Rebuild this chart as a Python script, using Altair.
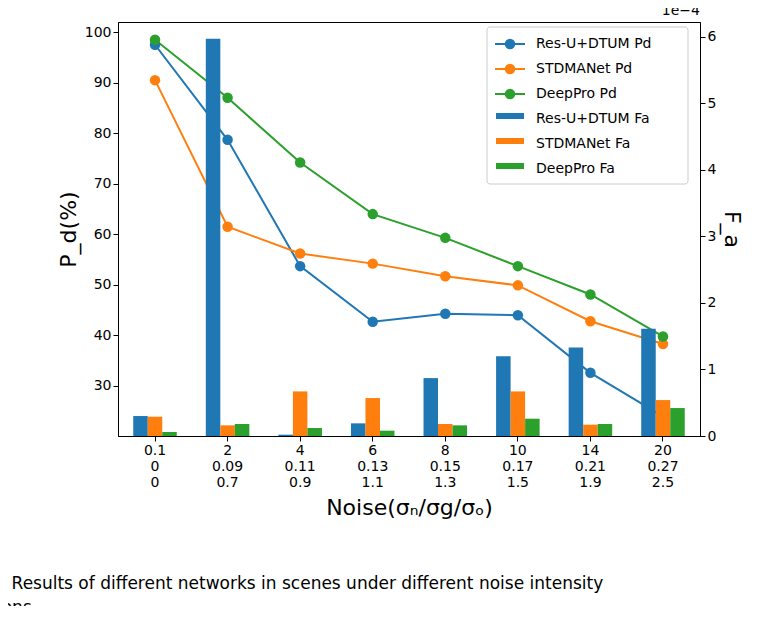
import altair as alt
import pandas as pd

cats = ["0.1|0|0", "2|0.09|0.7", "4|0.11|0.9", "6|0.13|1.1", "8|0.15|1.3", "10|0.17|1.5", "14|0.21|1.9", "20|0.27|2.5"]
nets = ["Res-U+DTUM", "STDMANet", "DeepPro"]
colors = ["#1f77b4", "#ff7f0e", "#2ca02c"]
pd_res = [97.5, 78.7, 53.7, 42.7, 44.3, 44.0, 32.6, 24.0]
pd_std = [90.5, 61.5, 56.2, 54.2, 51.7, 49.9, 42.8, 38.3]
pd_deep = [98.5, 87.0, 74.2, 64.0, 59.3, 53.7, 48.1, 39.8]
fa_res = [0.30, 5.97, 0.02, 0.19, 0.87, 1.20, 1.33, 1.61]
fa_std = [0.29, 0.16, 0.67, 0.57, 0.18, 0.67, 0.17, 0.54]
fa_deep = [0.06, 0.18, 0.12, 0.08, 0.16, 0.26, 0.18, 0.42]

rows = []
for n, p, f in zip(nets, [pd_res, pd_std, pd_deep], [fa_res, fa_std, fa_deep]):
    for c, pv, fv in zip(cats, p, f):
        rows.append({"cat": c, "net": n, "pd": pv, "fa": fv})
df = pd.DataFrame(rows)

F = "DejaVu Sans"
xenc = alt.X("cat:N", sort=cats, scale=alt.Scale(paddingInner=0.4, paddingOuter=0.21),
             axis=alt.Axis(labelExpr="split(datum.label, '|')", labelAngle=0, labelFontSize=14,
                           labelFont=F, labelColor="black", title="Noise(σₙ/σg/σₒ)", titleFontSize=22,
                           titleFont=F, titleFontWeight="normal", titlePadding=8, ticks=True, domainColor="black", tickColor="black"))
cscale = alt.Scale(domain=nets, range=colors)

lines = alt.Chart(df).mark_line(strokeWidth=2, point=alt.OverlayMarkDef(size=110, filled=True, opacity=1)).encode(
    x=xenc,
    y=alt.Y("pd:Q", scale=alt.Scale(domain=[20.1, 102], nice=False, zero=False),
            axis=alt.Axis(values=[30, 40, 50, 60, 70, 80, 90, 100], labelFontSize=14, labelFont=F, labelColor="black",
                          title="P_d(%)", titleFontSize=22, titleFont=F, titleFontWeight="normal", grid=False,
                          domainColor="black", tickColor="black")),
    color=alt.Color("net:N", scale=cscale, legend=None),
)
bars = alt.Chart(df).mark_bar().encode(
    x=xenc,
    xOffset=alt.XOffset("net:N", sort=nets),
    y=alt.Y("fa:Q", scale=alt.Scale(domain=[0, 6.22], nice=False),
            axis=alt.Axis(orient="right", values=[0, 1, 2, 3, 4, 5, 6], labelFontSize=14, labelFont=F, labelColor="black",
                          title="F_a", titleFontSize=22, titleFont=F, titleFontWeight="normal", grid=False,
                          domainColor="black", tickColor="black")),
    color=alt.Color("net:N", scale=cscale, legend=None),
)

leg = pd.DataFrame({
    "label": [n + " Pd" for n in nets] + [n + " Fa" for n in nets],
    "net": nets + nets,
    "ypx": [22 + 25 * i for i in range(6)],
    "kind": ["l"] * 3 + ["b"] * 3,
})
base = alt.Chart(leg)
lbox = base.mark_rect(fill="white", stroke="#ccc", cornerRadius=3).encode(
    x=alt.value(369), x2=alt.value(570), y=alt.value(5), y2=alt.value(162)).transform_filter("datum.ypx == 22")
lrule = base.mark_rule(strokeWidth=2).encode(
    x=alt.value(377), x2=alt.value(407), y=alt.Y("ypx:Q", scale=None),
    color=alt.Color("net:N", scale=cscale, legend=None)).transform_filter("datum.kind == 'l'")
lpt = base.mark_point(filled=True, size=110, opacity=1).encode(
    x=alt.value(392), y=alt.Y("ypx:Q", scale=None),
    color=alt.Color("net:N", scale=cscale, legend=None)).transform_filter("datum.kind == 'l'")
lsq = base.mark_rect().encode(
    x=alt.value(378), x2=alt.value(406), y=alt.Y("ypx:Q", scale=None), y2=alt.Y2("y2:Q"),
    color=alt.Color("net:N", scale=cscale, legend=None)).transform_calculate(
    ypx="datum.ypx - 6", y2="datum.ypx + 6").transform_filter("datum.kind == 'b'")
ltxt = base.mark_text(align="left", baseline="middle", fontSize=14, font=F).encode(
    x=alt.value(418), y=alt.Y("ypx:Q", scale=None), text="label:N")
exp = base.mark_text(align="right", baseline="bottom", fontSize=14, font=F).encode(
    x=alt.value(582), y=alt.value(-4), text=alt.value("1e−4")).transform_filter("datum.ypx == 22")

chart = alt.layer(lines, bars, lbox, lrule, lpt, lsq, ltxt, exp).resolve_scale(y="independent").properties(
    width=582, height=414,
    autosize=alt.AutoSizeParams(type="none"),
    padding={"left": 110, "top": 14, "right": 74, "bottom": 170},
    title=alt.TitleParams(["Fig. 15. Results of different networks in scenes under different noise intensity",
                           "conditions."],
                          orient="bottom", anchor="start", fontSize=17, font=F, fontWeight="normal",
                          offset=58, dx=-113, lineHeight=24),
).configure_view(stroke="black")

chart.save("out.html", embed_options={"renderer": "svg", "actions": False})
